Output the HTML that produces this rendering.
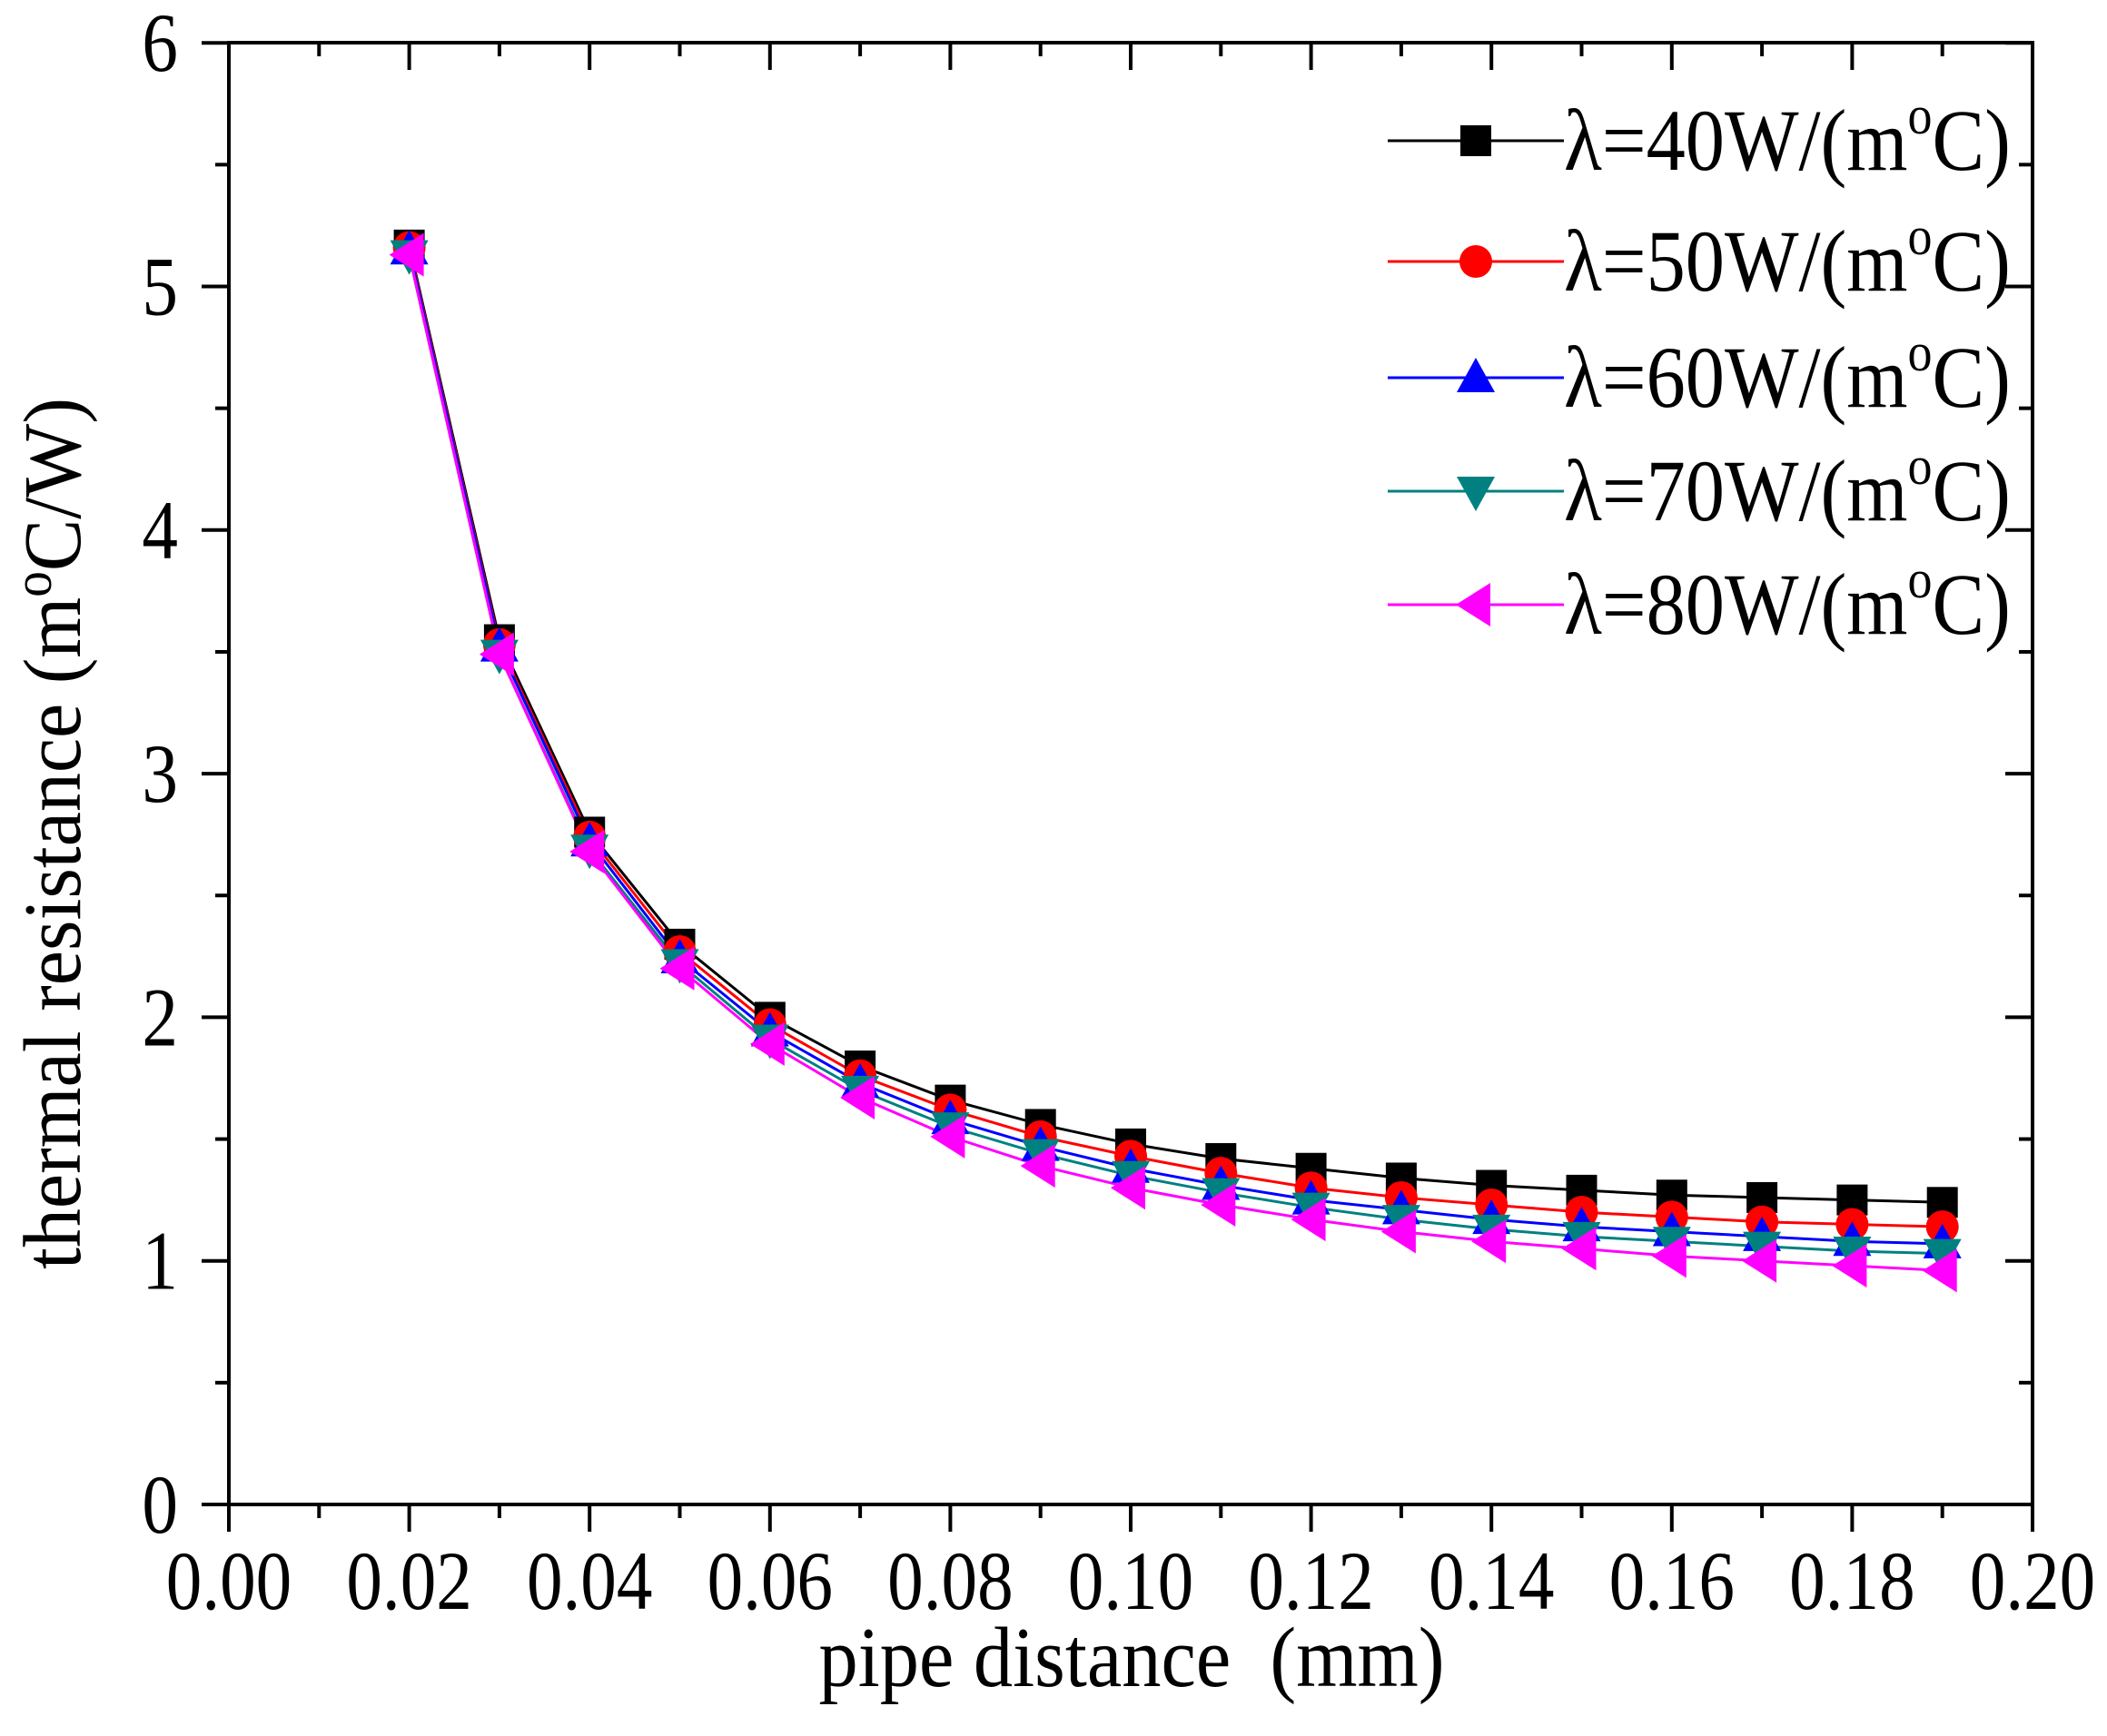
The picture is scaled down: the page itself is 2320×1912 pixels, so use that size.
<!DOCTYPE html>
<html><head><meta charset="utf-8"><style>
html,body{margin:0;padding:0;background:#fff;}
svg{display:block;}
text{font-family:"Liberation Serif",serif;fill:#000;}
</style></head><body>
<svg width="2320" height="1912" viewBox="0 0 2320 1912" xmlns="http://www.w3.org/2000/svg">
<defs>
<g id="sq"><rect x="-17" y="-17" width="34" height="34" fill="#000"/></g>
<g id="ci"><ellipse cx="0" cy="0" rx="18" ry="18" fill="#f00"/></g>
<g id="tu"><polygon points="0,-22 21,16 -21,16" fill="#00f"/></g>
<g id="td"><polygon points="0,22 21,-16 -21,-16" fill="#008080"/></g>
<g id="tl"><polygon points="-22,0 16,-24 16,24" fill="#f0f"/></g>
</defs>
<rect x="252" y="47" width="1986" height="1610" stroke="#000" fill="none" stroke-width="4"/>
<g id="ticks" stroke="#000" stroke-width="4"></g>
<g id="series"></g>
<g id="labels"></g>
<g transform="translate(1246,1857) scale(0.92,1)"><text font-size="94" text-anchor="middle">pipe distance&#160; (mm)</text></g>
<g transform="translate(88,918) rotate(-90) scale(1,1)"><text font-size="90" text-anchor="middle" textLength="960" lengthAdjust="spacingAndGlyphs">thermal resistance (m<tspan dy="-32" font-size="60">o</tspan><tspan dy="32">C/W)</tspan></text></g>
<g id="legend"></g>
<script>
var ns="http://www.w3.org/2000/svg";
function X(x){return 252+x/0.2*1986;}
function Y(y){return 1657-y*268.3;}
function el(t,a,p){var e=document.createElementNS(ns,t);for(var k in a)e.setAttribute(k,a[k]);(p||document.getElementById('series')).appendChild(e);return e;}
function lab(x,y,s,anchor,fs,sx,p){var g=el('g',{transform:'translate('+x+','+y+') scale('+sx+',1)'},p);var t=el('text',{'font-size':fs,'text-anchor':anchor},g);t.textContent=s;return t;}
var tk=document.getElementById('ticks');
for(var i=0;i<=20;i++){var x=X(i*0.01),L=i%2==0?30:15;
 el('line',{x1:x,y1:1657,x2:x,y2:1657+L},tk);el('line',{x1:x,y1:47,x2:x,y2:47+L},tk);}
for(var i=0;i<=12;i++){var y=Y(i*0.5),L=i%2==0?30:15;
 el('line',{x1:252,y1:y,x2:252-L,y2:y},tk);el('line',{x1:2238,y1:y,x2:2238-L,y2:y},tk);}
var lb=document.getElementById('labels');
for(var i=0;i<=10;i++){lab(X(i*0.02),1772,(i*0.02).toFixed(2),'middle',92,0.86,lb);}
for(var i=0;i<=6;i++){lab(196,Y(i)+31,''+i,'end',92,0.86,lb);}
var D=[
['#000','sq',[5.17,3.55,2.76,2.30,2.00,1.80,1.66,1.56,1.48,1.42,1.38,1.34,1.31,1.29,1.27,1.26,1.25,1.24]],
['#f00','ci',[5.16,3.53,2.74,2.27,1.97,1.76,1.62,1.51,1.43,1.36,1.30,1.26,1.23,1.20,1.18,1.16,1.15,1.14]],
['#00f','tu',[5.15,3.52,2.72,2.24,1.94,1.73,1.58,1.47,1.38,1.31,1.25,1.21,1.17,1.14,1.12,1.10,1.08,1.07]],
['#008080','td',[5.13,3.49,2.69,2.22,1.91,1.70,1.55,1.44,1.35,1.28,1.22,1.17,1.13,1.10,1.08,1.06,1.04,1.03]],
['#f0f','tl',[5.13,3.49,2.68,2.20,1.89,1.67,1.51,1.39,1.30,1.23,1.17,1.12,1.08,1.05,1.02,1.00,0.98,0.96]]];
D.forEach(function(s){var pts=s[2].map(function(v,i){return X(0.02+i*0.01)+','+Y(v);}).join(' ');
 el('polyline',{points:pts,fill:'none',stroke:s[0],'stroke-width':3});});
D.forEach(function(s){s[2].forEach(function(v,i){el('use',{href:'#'+s[1],x:X(0.02+i*0.01),y:Y(v)});});});
var lg=document.getElementById('legend');var labs=['40','50','60','70','80'];var ry=[155,288,416,541,666];
D.forEach(function(s,i){var y=ry[i];
 el('line',{x1:1528,y1:y,x2:1722,y2:y,stroke:s[0],'stroke-width':3},lg);
 el('use',{href:'#'+s[1],x:1625,y:y},lg);
 var g=el('g',{transform:'translate(1722,'+(y+32)+') scale(0.9,1)'},lg);
 var t=el('text',{'font-size':96},g);
 t.appendChild(document.createTextNode('\u03bb='+labs[i]+'W/(m'));
 var a=el('tspan',{dy:-40,'font-size':60},t);a.textContent='o';
 var b=el('tspan',{dy:40},t);b.textContent='C)';});
</script>
</svg>
</body></html>
